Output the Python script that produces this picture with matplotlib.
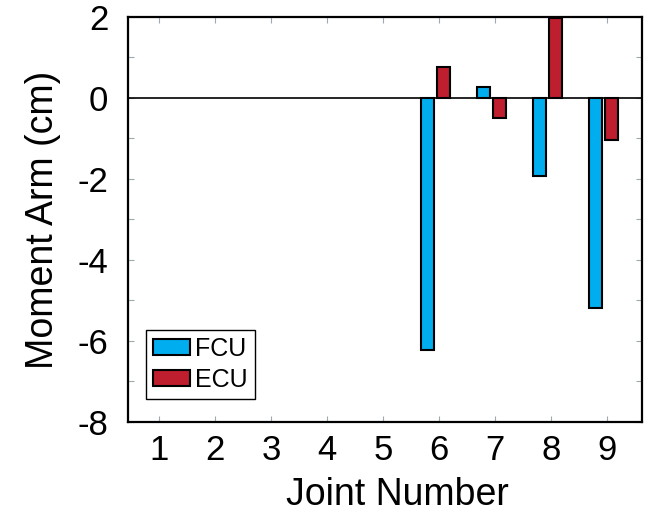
import matplotlib

matplotlib.use("Agg")

import matplotlib.pyplot as plt
import numpy as np
from matplotlib.ticker import MultipleLocator

plt.rcParams["font.family"] = ["Liberation Sans", "DejaVu Sans"]
plt.rcParams["axes.unicode_minus"] = False

joints = [1, 2, 3, 4, 5, 6, 7, 8, 9]
fcu = [np.nan, np.nan, np.nan, np.nan, np.nan, -6.22, 0.28, -1.92, -5.19]
ecu = [np.nan, np.nan, np.nan, np.nan, np.nan, 0.77, -0.49, 1.97, -1.04]

FCU_COLOR = "#00aeef"
ECU_COLOR = "#be1e2d"

fig = plt.figure(figsize=(6.46, 5.14), dpi=100)
ax = fig.add_axes([0.198, 0.179, 0.796, 0.788])

x = np.array(joints, dtype=float)
width = 0.23
ax.bar(x - 0.21, fcu, width, color=FCU_COLOR, edgecolor="black", linewidth=1.5, label="FCU", zorder=3)
ax.bar(x + 0.08, ecu, width, color=ECU_COLOR, edgecolor="black", linewidth=1.5, label="ECU", zorder=3)
ax.axhline(0, color="black", linewidth=1.2, zorder=4)

ax.set_xlim(0.45, 9.62)
ax.set_ylim(-8, 2)
ax.set_xticks(joints)
ax.set_yticks([-8, -6, -4, -2, 0, 2])
ax.yaxis.set_minor_locator(MultipleLocator(1))

for side in ["top", "bottom", "left", "right"]:
    ax.spines[side].set_linewidth(1.6)
    ax.spines[side].set_color("black")

ax.tick_params(axis="both", which="both", direction="in", top=True, right=True,
               length=4, width=0.8, color="#a0a8b0", labelsize=25)
ax.tick_params(axis="x", pad=9)
ax.tick_params(axis="y", pad=14)

ax.set_xlabel("Joint Number", fontsize=27, labelpad=7)
ax.xaxis.set_label_coords(0.524, -0.135, transform=ax.transAxes)
ax.xaxis.label.set_verticalalignment("top")
ax.set_ylabel("Moment Arm (cm)", fontsize=27, labelpad=12)

leg = ax.legend(loc="lower left", bbox_to_anchor=(0.035, 0.058), fontsize=18,
                frameon=True, fancybox=False, edgecolor="black", framealpha=1,
                handlelength=1.5, handleheight=0.62, handletextpad=0.2,
                labelspacing=0.28, borderpad=0.28, borderaxespad=0)
leg.get_frame().set_linewidth(1.0)

fig.savefig("out.png", dpi=100)
